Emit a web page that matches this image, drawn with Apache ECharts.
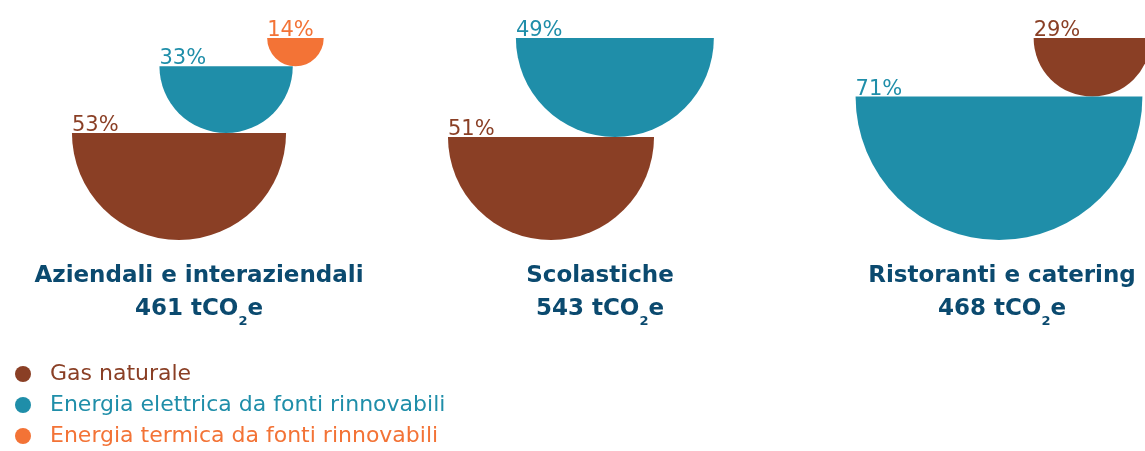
<!DOCTYPE html>
<html><head><meta charset="utf-8">
<script src="https://cdn.jsdelivr.net/npm/echarts@6/dist/echarts.min.js"></script>
<style>html,body{margin:0;padding:0;background:#fff}#c{width:1145px;height:451px}</style>
</head><body><div id="c"></div>
<script>
// ---- data ----
const categories = ['Aziendali e interaziendali', 'Scolastiche', 'Ristoranti e catering'];
const totals = [461, 543, 468];
const seriesNames = ['Gas naturale', 'Energia elettrica da fonti rinnovabili', 'Energia termica da fonti rinnovabili'];
const gasNaturale = [53, 51, 29];
const energiaElettrica = [33, 49, 71];
const energiaTermica = [14, null, null];

// ---- layout / style ----
const W = 1145, H = 451;
const colors = ['#8a3f25', '#1f8ea9', '#f37336'];
const navy = '#0b4a6f';
const PX_PER_PCT = 2.02;
const baseY = 240;
const groupCenterX = [179, 551, 999];
const shiftRatio = [[0, 0.44, 1.04], [0, 0.62], [0, 0.65]];
const titleX = [199, 600, 1002];
const labelFont = 'DejaVu Sans';
const titleFont = 'DejaVu Sans';

const seriesValues = [gasNaturale, energiaElettrica, energiaTermica];
const baseVal = (H - baseY) / PX_PER_PCT;

// build stacked semicircles (largest at the bottom)
const seriesData = seriesValues.map(() => []);
categories.forEach((c, g) => {
  const items = [];
  seriesValues.forEach((arr, s) => { if (arr[g] != null) items.push({ s, v: arr[g] }); });
  items.sort((a, b) => b.v - a.v);
  let cum = 0, cx = groupCenterX[g], prevR = 0;
  items.forEach((it, i) => {
    if (i > 0) cx = cx + shiftRatio[g][i] * prevR;
    cum += it.v;
    seriesData[it.s].push([cx, baseVal + cum, it.v]);
    prevR = it.v * PX_PER_PCT;
  });
});

const chart = echarts.init(document.getElementById('c'), null, { renderer: 'canvas' });

const titles = [];
categories.forEach((c, g) => {
  titles.push({
    text: c, left: titleX[g], top: 265, textAlign: 'center', padding: 0,
    textStyle: { fontFamily: titleFont, fontWeight: 'bold', fontSize: 23, color: navy }
  });
  titles.push({
    text: '{v|' + totals[g] + ' tCO}{s|2}{v|e}', left: titleX[g], top: 291, textAlign: 'center', padding: 0,
    textStyle: {
      rich: {
        v: { fontFamily: titleFont, fontWeight: 'bold', fontSize: 23, color: navy },
        s: { fontFamily: titleFont, fontWeight: 'bold', fontSize: 13, color: navy, padding: [24, 0, 0, 0] }
      }
    }
  });
});

chart.setOption({
  animation: false,
  title: titles,
  grid: { left: 0, right: 0, top: 0, bottom: 0 },
  xAxis: { type: 'value', min: 0, max: W, show: false },
  yAxis: { type: 'value', min: 0, max: H / PX_PER_PCT, show: false },
  legend: {
    orient: 'vertical', left: 15, top: 363, height: 120, padding: 0,
    itemWidth: 16, itemHeight: 16, itemGap: 9,
    icon: 'circle',
    data: seriesNames.map((n, i) => ({
      name: n,
      textStyle: { color: colors[i], fontFamily: labelFont, fontSize: 22, padding: [0, 0, 0, 14] }
    }))
  },
  series: seriesNames.map((name, s) => ({
    type: 'custom', name,
    itemStyle: { color: colors[s] },
    data: seriesData[s],
    renderItem: (params, api) => {
      const p = api.coord([api.value(0), api.value(1)]);
      const v = api.value(2);
      const r = api.size([0, v])[1];
      return {
        type: 'group', children: [
          { type: 'sector', shape: { cx: p[0], cy: p[1], r0: 0, r: r, startAngle: 0, endAngle: Math.PI, clockwise: true },
            style: { fill: colors[s] } },
          { type: 'text', x: p[0] - r, y: p[1] + 3,
            style: { text: v + '%', fill: colors[s], fontFamily: labelFont, fontSize: 21, align: 'left', verticalAlign: 'bottom' } }
        ]
      };
    }
  }))
});
</script></body></html>
